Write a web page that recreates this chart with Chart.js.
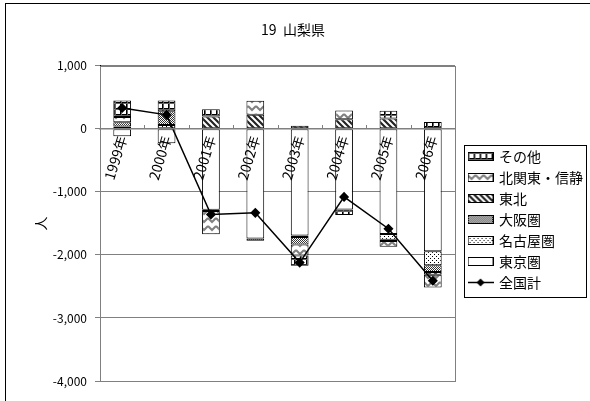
<!DOCTYPE html>
<html><head><meta charset="utf-8">
<script src="https://cdn.jsdelivr.net/npm/chart.js@4.4.0/dist/chart.umd.min.js"></script>
<style>html,body{margin:0;padding:0;background:#fff}#wrap{position:relative;width:590px;height:401px}</style>
</head><body><div id="wrap"><canvas id="c" width="590" height="401"></canvas></div>
<script>
const categories = ['1999年','2000年','2001年','2002年','2003年','2004年','2005年','2006年'];
const tokyo     = [-117, -227, -1285, -1740, -1690, -1280, -1670, -1940];
const nagoya    = [36, 60, 0, 0, -25, 0, -90, -225];
const osaka     = [70, 220, -20, -37, -120, 0, -20, -105];
const tohoku    = [0, 0, 195, 222, 48, 154, 165, -45];
const kitakanto = [80, 0, -366, 222, -175, 137, -90, -200];
const other     = [263, 170, 117, 0, -160, -85, 120, 110];
const total     = [330, 222, -1359, -1333, -2122, -1080, -1585, -2410];
const yTicks = [1000, 0, -1000, -2000, -3000, -4000];

const FONT = "'Noto Sans CJK JP', 'Noto Sans', sans-serif";
const canvas = document.getElementById('c');
const ctx = canvas.getContext('2d');

function tile(w, h, draw) {
  const c = document.createElement('canvas'); c.width = w; c.height = h;
  const g = c.getContext('2d'); g.fillStyle = '#fff'; g.fillRect(0, 0, w, h); draw(g); return c;
}
const tiles = {
  other: tile(6, 6, g => { g.fillStyle = '#000'; g.fillRect(0, 0, 1, 6); g.fillRect(0, 0, 6, 1); g.fillStyle = '#666'; g.fillRect(1, 0, 1, 6); g.fillRect(0, 1, 6, 1); }),
  kitakanto: tile(8, 8, g => { g.strokeStyle = '#808080'; g.lineWidth = 2; g.beginPath(); g.moveTo(0, 2); g.lineTo(4, 6); g.lineTo(8, 2); g.stroke(); }),
  tohoku: tile(6, 6, g => { g.strokeStyle = '#222'; g.lineWidth = 2.2; g.beginPath(); g.moveTo(-1, -1); g.lineTo(7, 7); g.moveTo(-1, 5); g.lineTo(1, 7); g.moveTo(5, -1); g.lineTo(7, 1); g.stroke(); }),
  osaka: tile(2, 2, g => { g.fillStyle = '#333'; g.fillRect(0, 0, 1, 1); g.fillRect(1, 1, 1, 1); }),
  nagoya: tile(4, 4, g => { g.fillStyle = '#000'; g.fillRect(0, 0, 1, 1); g.fillRect(2, 2, 1, 1); }),
  tokyo: tile(2, 2, g => {})
};
const pat = {};
for (const k in tiles) pat[k] = ctx.createPattern(tiles[k], 'repeat');

function boxIcon(key) {
  const c = document.createElement('canvas'); c.width = 26; c.height = 9;
  const g = c.getContext('2d');
  g.fillStyle = g.createPattern(tiles[key], 'repeat'); g.fillRect(0, 0, 26, 9);
  g.strokeStyle = '#000'; g.lineWidth = 1; g.strokeRect(0.5, 0.5, 25, 8);
  return c;
}
function lineIcon() {
  const c = document.createElement('canvas'); c.width = 26; c.height = 9;
  const g = c.getContext('2d');
  g.strokeStyle = '#000'; g.lineWidth = 1.5; g.beginPath(); g.moveTo(0, 4.5); g.lineTo(26, 4.5); g.stroke();
  g.fillStyle = '#000'; g.beginPath(); g.moveTo(13, 0.5); g.lineTo(17, 4.5); g.lineTo(13, 8.5); g.lineTo(9, 4.5); g.closePath(); g.fill();
  return c;
}
const icons = [lineIcon(), boxIcon('tokyo'), boxIcon('nagoya'), boxIcon('osaka'), boxIcon('tohoku'), boxIcon('kitakanto'), boxIcon('other')];

function barDs(label, data, key) {
  return { type: 'bar', label, data, backgroundColor: pat[key], borderColor: '#000', borderWidth: 1,
    borderSkipped: false, categoryPercentage: 1, barPercentage: 0.4, order: 1 };
}

const framePlugin = {
  id: 'frames',
  afterLayout(chart) {
    const lg = chart.legend;
    lg.left += 7; lg.right += 7; lg.top += 29; lg.bottom += 29;
  },
  beforeDraw(chart) {
    const c = chart.ctx; c.save();
    c.fillStyle = '#fff'; c.fillRect(0, 0, chart.width, chart.height);
    c.strokeStyle = '#000'; c.lineWidth = 1; c.strokeRect(5.5, 3.5, 700, 700);
    c.restore();
  },
  beforeDatasetsDraw(chart) {
    const a = chart.chartArea, c = chart.ctx; c.save();
    c.strokeStyle = '#808080'; c.lineWidth = 1;
    c.strokeRect(Math.round(a.left) + 0.5, Math.round(a.top) + 0.5, Math.round(a.right - a.left), Math.round(a.bottom - a.top));
    c.restore();
  },
  afterDraw(chart) {
    const c = chart.ctx, xs = chart.scales.x, ys = chart.scales.y;
    const y0 = Math.round(ys.getPixelForValue(0));
    c.save(); c.strokeStyle = '#808080'; c.lineWidth = 1;
    for (let i = 1; i < categories.length; i++) {
      const x = Math.round((xs.getPixelForValue(i - 1) + xs.getPixelForValue(i)) / 2) + 0.5;
      c.beginPath(); c.moveTo(x, y0 - 4); c.lineTo(x, y0); c.stroke();
    }
    const hb = chart.legend.legendHitBoxes;
    if (hb && hb.length) {
      let l = Infinity, t = Infinity, r = -Infinity, b = -Infinity;
      hb.forEach(h => { l = Math.min(l, h.left); t = Math.min(t, h.top); r = Math.max(r, h.left + h.width); b = Math.max(b, h.top + h.height); });
      c.strokeStyle = '#000'; c.lineWidth = 1;
      c.strokeRect(Math.round(l - 5) + 0.5, Math.round(t - 5) + 0.5, Math.round(r - l + 8), Math.round(b - t + 12));
    }
    c.restore();
  }
};

new Chart(canvas, {
  data: {
    labels: categories,
    datasets: [
      { type: 'line', label: '全国計', data: total, borderColor: '#000', borderWidth: 1.5, backgroundColor: '#000',
        pointStyle: 'rectRot', pointRadius: 4, pointBackgroundColor: '#000', pointBorderColor: '#000',
        tension: 0, stack: 'total', order: 0 },
      barDs('東京圏', tokyo, 'tokyo'),
      barDs('名古屋圏', nagoya, 'nagoya'),
      barDs('大阪圏', osaka, 'osaka'),
      barDs('東北', tohoku, 'tohoku'),
      barDs('北関東・信静', kitakanto, 'kitakanto'),
      barDs('その他', other, 'other')
    ]
  },
  options: {
    responsive: false, animation: false, devicePixelRatio: 1,
    layout: { padding: { left: 0, right: 4, top: 0, bottom: 20 } },
    plugins: {
      tooltip: { enabled: false },
      title: { display: true, text: '19  山梨県', color: '#000', font: { family: FONT, size: 14, weight: 'normal' },
        padding: { top: 21, bottom: 28 } },
      legend: {
        position: 'right',
        labels: {
          usePointStyle: true, pointStyleWidth: 23, boxHeight: 9, padding: 7, color: '#000',
          font: { family: FONT, size: 14 },
          generateLabels(chart) {
            return [6, 5, 4, 3, 2, 1, 0].map(i => ({
              text: chart.data.datasets[i].label, pointStyle: icons[i], datasetIndex: i, hidden: false,
              lineWidth: 0, strokeStyle: 'rgba(0,0,0,0)', fillStyle: 'rgba(0,0,0,0)', fontColor: '#000', rotation: 0
            }));
          }
        }
      }
    },
    scales: {
      x: {
        type: 'category', stacked: true, offset: true, position: { y: 0 },
        grid: { display: true, drawOnChartArea: false, tickLength: 0 },
        border: { display: true, color: '#808080', width: 1.5, z: 1 },
        ticks: { z: 1, minRotation: 73, maxRotation: 73, autoSkip: false, padding: 5, color: '#000',
          font: { family: FONT, size: 14 } }
      },
      y: {
        stacked: true, min: -4000, max: 1000,
        afterBuildTicks(scale) { scale.ticks = yTicks.map(v => ({ value: v })); },
        afterFit(scale) { scale.width = 100; },
        grid: { color: '#808080', lineWidth: 1, tickLength: 5 },
        border: { display: true, color: '#000', width: 1 },
        ticks: { color: '#000', padding: 8, font: { family: FONT, size: 12 },
          callback: v => Number(v).toLocaleString('en-US') },
        title: { display: true, text: '人', color: '#000', font: { family: FONT, size: 14 }, padding: { top: 32, bottom: 0 } }
      }
    }
  },
  plugins: [framePlugin]
});
</script></body></html>
